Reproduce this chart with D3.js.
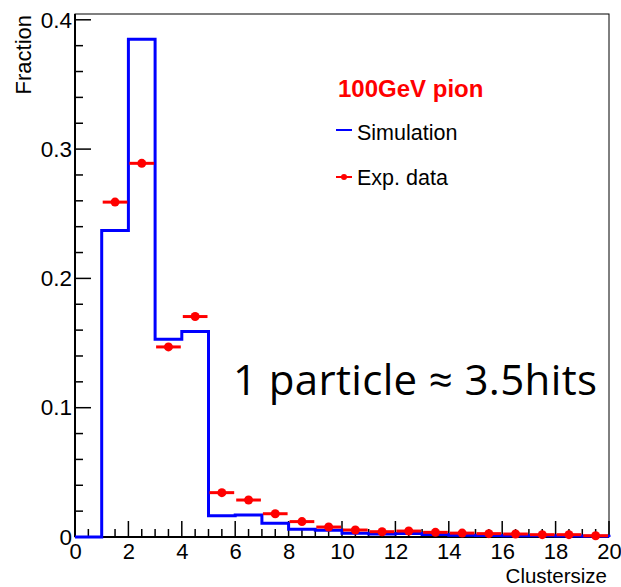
<!DOCTYPE html>
<html>
<head>
<meta charset="utf-8">
<script src="https://cdn.jsdelivr.net/npm/d3@7/dist/d3.min.js"></script>
<style>
  html, body { margin: 0; padding: 0; background: #fff; }
  svg { display: block; }
</style>
</head>
<body>
<svg id="chart" width="621" height="587"></svg>
<script>
// Cluster size bins (lower edges), one unit wide
const binEdges = d3.range(0, 21);
// Simulated fraction per bin (0-1, 1-2, ... 19-20)
const simulation = [0, 0.237, 0.385, 0.153, 0.159, 0.0165, 0.017, 0.0106, 0.006, 0.0052,
                    0.0029, 0.0023, 0.0027, 0.002, 0.0013, 0.0011, 0.001, 0.0009, 0.0008, 0.0006];
// Measured fraction per bin (first bin empty)
const expData = [null, 0.259, 0.289, 0.147, 0.1705, 0.0343, 0.0286, 0.018, 0.0119, 0.0077,
                 0.0054, 0.0041, 0.0046, 0.0036, 0.003, 0.0026, 0.0023, 0.0018, 0.0018, 0.001];
const xTicks = [0, 2, 4, 6, 8, 10, 12, 14, 16, 18, 20];
const yTicks = [0, 0.1, 0.2, 0.3, 0.4];

const svg = d3.select("#chart");
const plotL = 75, plotR = 609, plotT = 14, plotB = 537;

const x = d3.scaleLinear().domain([0, 20]).range([plotL, plotR]);
const y = d3.scaleLinear().domain([0, 0.4]).range([plotB, 19.8]);
const yTopVal = y.invert(plotT);

const font = "'Liberation Sans', Arial, Helvetica, sans-serif";

// Frame
svg.append("rect")
  .attr("x", plotL).attr("y", plotT)
  .attr("width", plotR - plotL).attr("height", plotB - plotT)
  .attr("fill", "none").attr("stroke", "#000").attr("stroke-width", 1);

// Minor and major ticks
const xMinor = d3.range(0, 20.001, 0.5);
svg.append("g").selectAll("line").data(xMinor).join("line")
  .attr("x1", d => x(d)).attr("x2", d => x(d))
  .attr("y1", plotB).attr("y2", d => plotB - (Math.abs(d / 2 - Math.round(d / 2)) < 1e-6 ? 16 : 8))
  .attr("stroke", "#000").attr("stroke-width", 1.5);
const yMinor = d3.range(0, yTopVal, 0.02);
svg.append("g").selectAll("line").data(yMinor).join("line")
  .attr("y1", d => y(d)).attr("y2", d => y(d))
  .attr("x1", plotL).attr("x2", d => plotL + (Math.abs(d * 10 - Math.round(d * 10)) < 1e-6 ? 16 : 8))
  .attr("stroke", "#000").attr("stroke-width", 1.5);

// Axis lines
svg.append("line").attr("x1", plotL).attr("x2", plotL).attr("y1", plotT).attr("y2", plotB)
  .attr("stroke", "#000").attr("stroke-width", 2);
svg.append("line").attr("x1", plotL).attr("x2", plotR).attr("y1", plotB).attr("y2", plotB)
  .attr("stroke", "#000").attr("stroke-width", 2);

// Tick labels via d3 axes (tick lines drawn above)
const xAxis = d3.axisBottom(x).tickValues(xTicks).tickSize(0).tickPadding(6).tickFormat(d3.format("d"));
svg.append("g").attr("transform", `translate(0,${plotB})`).call(xAxis)
  .call(g => g.select(".domain").remove())
  .selectAll("text").attr("font-family", font).attr("font-size", 22).attr("fill", "#000");
const yAxis = d3.axisLeft(y).tickValues(yTicks).tickSize(0).tickPadding(3)
  .tickFormat(d => d === 0 ? "0" : d3.format(".1f")(d));
svg.append("g").attr("transform", `translate(${plotL},0)`).call(yAxis)
  .call(g => g.select(".domain").remove())
  .selectAll("text").attr("font-family", font).attr("font-size", 22.5).attr("fill", "#000");

// Axis titles
svg.append("text").attr("x", 607).attr("y", 582.5).attr("text-anchor", "end")
  .attr("font-family", font).attr("font-size", 20.5).text("Clustersize");
svg.append("text").attr("transform", "translate(31,15) rotate(-90)").attr("text-anchor", "end")
  .attr("font-family", font).attr("font-size", 22).text("Fraction");

// Simulation histogram as a step outline
const stepPts = [[x(0), y(0)]];
simulation.forEach((v, i) => {
  stepPts.push([x(binEdges[i]), y(v)]);
  stepPts.push([x(binEdges[i + 1]), y(v)]);
});
stepPts.push([x(20), y(0)]);
svg.append("path")
  .attr("d", d3.line()(stepPts))
  .attr("fill", "none").attr("stroke", "#0000ff").attr("stroke-width", 3)
  .attr("stroke-linejoin", "miter");

// Measured data: horizontal bar across the bin plus a marker at bin centre
const pts = expData.map((v, i) => ({ v, i })).filter(d => d.v !== null);
const gData = svg.append("g");
gData.selectAll("line").data(pts).join("line")
  .attr("x1", d => x(binEdges[d.i]) + 1).attr("x2", d => x(binEdges[d.i + 1]) - 1)
  .attr("y1", d => y(d.v)).attr("y2", d => y(d.v))
  .attr("stroke", "#ff0000").attr("stroke-width", 3);
gData.selectAll("circle").data(pts).join("circle")
  .attr("cx", d => x(binEdges[d.i] + 0.5)).attr("cy", d => y(d.v)).attr("r", 4.5)
  .attr("fill", "#ff0000");

// Legend
svg.append("text").attr("x", 338).attr("y", 97)
  .attr("font-family", font).attr("font-size", 24).attr("font-weight", "bold")
  .attr("fill", "#ff0000").text("100GeV pion");
svg.append("line").attr("x1", 336).attr("x2", 352).attr("y1", 130).attr("y2", 130)
  .attr("stroke", "#0000ff").attr("stroke-width", 2);
svg.append("text").attr("x", 357).attr("y", 140)
  .attr("font-family", font).attr("font-size", 21.5).text("Simulation");
svg.append("line").attr("x1", 336).attr("x2", 352).attr("y1", 177).attr("y2", 177)
  .attr("stroke", "#ff0000").attr("stroke-width", 2);
svg.append("circle").attr("cx", 344).attr("cy", 177).attr("r", 3).attr("fill", "#ff0000");
svg.append("text").attr("x", 357).attr("y", 185)
  .attr("font-family", font).attr("font-size", 21.5).text("Exp. data");

// Annotation
svg.append("text").attr("x", 233).attr("y", 395)
  .attr("font-family", "'Open Sans', Lato, sans-serif").attr("font-size", 42)
  .attr("textLength", 364).attr("lengthAdjust", "spacing")
  .attr("fill", "#000").text("1 particle ≈ 3.5hits");
</script>
</body>
</html>
